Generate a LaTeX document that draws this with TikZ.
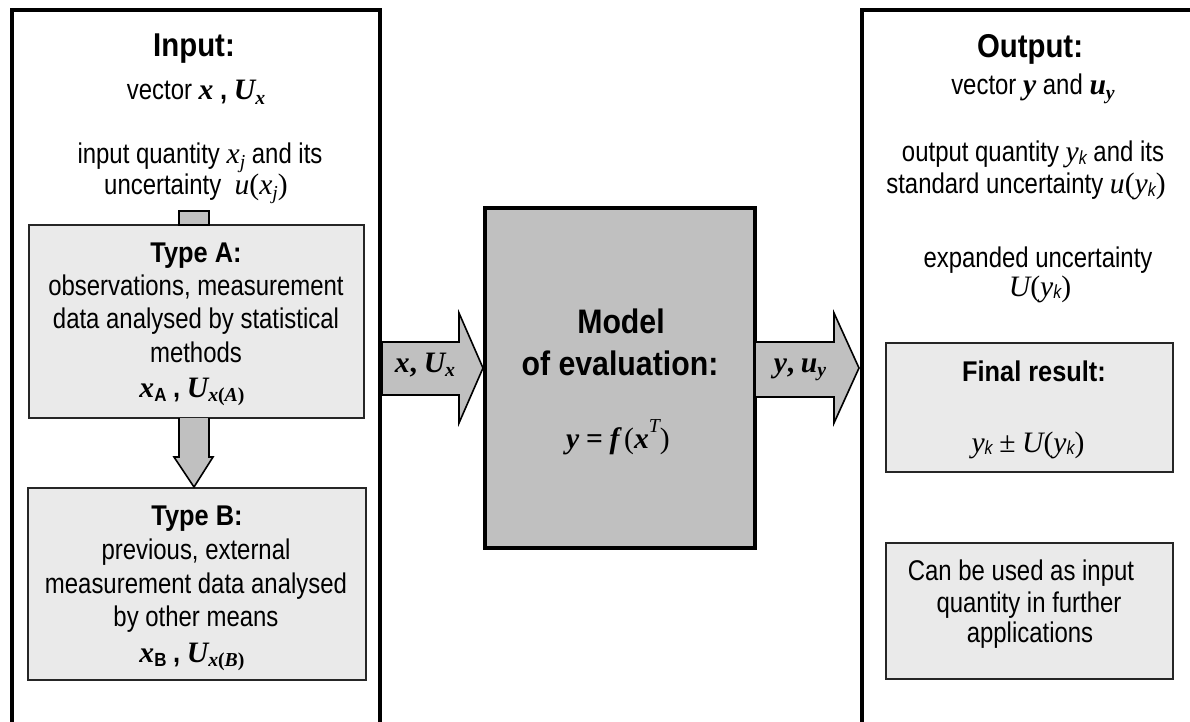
\documentclass[tikz,border=0pt]{standalone}
\usepackage{fontspec}
\setmainfont[FakeStretch=0.84,BoldFeatures={FakeStretch=0.89}]{Liberation Sans}
\newfontfamily\tms[Scale=1.04]{Liberation Serif}
\usetikzlibrary{calc}
\definecolor{boxgray}{HTML}{C0C0C0}
\definecolor{palegray}{HTML}{EAEAEA}
\newcommand{\bodyfont}{\fontsize{28.5bp}{33bp}\selectfont}
\newcommand{\titlefont}{\fontsize{33bp}{38bp}\selectfont\bfseries}
\newcommand{\modelfont}{\fontsize{34bp}{39bp}\selectfont\bfseries}
\newcommand{\mi}[1]{{\tms\itshape #1}}
\newcommand{\mbi}[1]{{\tms\bfseries\itshape #1}}
\newcommand{\mup}[1]{{\tms #1}}
\newcommand{\sbx}[1]{\raisebox{-0.16em}{\fontsize{19bp}{19bp}\selectfont #1}}
\newcommand{\sbk}[1]{\raisebox{-0.1em}{\fontsize{19bp}{19bp}\selectfont #1}}
\newcommand{\spx}[1]{\raisebox{0.55em}{\fontsize{19bp}{19bp}\selectfont #1}}
\tikzset{
  outerbox/.style={draw, rectangle, line width=3.3bp, fill=white, inner sep=0pt, outer sep=0pt},
  modelbox/.style={draw, rectangle, line width=3.3bp, fill=boxgray, inner sep=0pt, outer sep=0pt},
  graybox/.style={draw=black!85, rectangle, line width=2bp, fill=palegray, inner sep=0pt, outer sep=0pt},
  blockarrow/.style={draw, line width=1.6bp, fill=boxgray, line join=miter},
  txt/.style={anchor=base, inner sep=0pt, font=\bodyfont},
  ttl/.style={anchor=base, inner sep=0pt, font=\titlefont},
  sub/.style={anchor=base, inner sep=0pt, font=\bodyfont\bfseries},
  mdl/.style={anchor=base, inner sep=0pt, font=\modelfont},
}
\begin{document}
\begin{tikzpicture}[x=1bp,y=-1bp]
\useasboundingbox (0,0) rectangle (1190,722);
\fill[white] (0,0) rectangle (1190,722);

% outer containers
\node[outerbox, minimum width=368bp, minimum height=750bp] (inbox) at (196,385) {};
\node[outerbox, minimum width=388bp, minimum height=750bp] (outbox) at (1056,385) {};

% model box
\node[modelbox, minimum width=270bp, minimum height=340bp] (model) at (620,378) {};

% block arrows
\draw[blockarrow] ($(inbox.east |- 0,368)+(2,-26)$) -- (459,342) -- (459,313)
   -- ($(model.west |- 0,368)+(-2,0)$) -- (459,423) -- (459,395) -- ($(inbox.east |- 0,368)+(2,27)$) -- cycle;
\draw[blockarrow] ($(model.east |- 0,368)+(0,-26)$) -- (834,342) -- (834,313)
   -- ($(outbox.west |- 0,368)+(-3,0)$) -- (834,423) -- (834,397) -- ($(model.east |- 0,368)+(0,29)$) -- cycle;

% type boxes
\node[graybox, minimum width=335bp, minimum height=193bp] (typeA) at (196.5,321.5) {};
\node[graybox, minimum width=338bp, minimum height=192bp] (typeB) at (197,584) {};
\node[graybox, minimum width=287bp, minimum height=129bp] (final) at (1029.5,407.5) {};
\node[graybox, minimum width=287bp, minimum height=136bp] (further) at (1029.5,611) {};

% connector stub above type A and arrow A -> B
\draw[blockarrow] ($(typeA.north)+(-17.5,-14)$) rectangle ($(typeA.north)+(12.5,0)$);
\draw[blockarrow] ($(typeA.south)+(-17.5,0)$) -- ($(typeA.south)+(-17.5,39)$) -- ($(typeA.south)+(-22.5,39)$)
   -- ($(typeB.north)+(-3,-1)$) -- ($(typeA.south)+(16.5,39)$) -- ($(typeA.south)+(12.5,39)$) -- ($(typeA.south)+(12.5,0)$);

% input texts
\node[ttl] (tin) at (194,57) {Input:};
\node[txt] (tin1) at (196,100) {vector \mbi{x} \textbf{,} \mbi{U}\sbx{\mbi{x}}};
\node[txt] (tin2) at (200,164) {input quantity \mi{x}\sbx{\mi{j}} and its};
\node[txt] (tin3) at (196,195) {uncertainty\ \ \mi{u}\mup{(}\mi{x}\sbx{\mi{j}}\mup{)}};

\node[sub] (ta0) at (196,262) {Type A:};
\node[txt] (ta1) at (196,295) {observations, measurement};
\node[txt] (ta2) at (196,328) {data analysed by statistical};
\node[txt] (ta3) at (196,362) {methods};
\node[txt] (ta4) at (192,397) {\mbi{x}\sbx{\bfseries A} \textbf{,} \mbi{U}\sbx{\mbi{x}\mup{\bfseries(}\mbi{A}\mup{\bfseries)}}};

\node[sub] (tb0) at (197,525) {Type B:};
\node[txt] (tb1) at (196,559) {previous, external};
\node[txt] (tb2) at (196,593) {measurement data analysed};
\node[txt] (tb3) at (196,626) {by other means};
\node[txt] (tb4) at (192,662) {\mbi{x}\sbx{\bfseries B} \textbf{,} \mbi{U}\sbx{\mbi{x}\mup{\bfseries(}\mbi{B}\mup{\bfseries)}}};

% model texts
\node[mdl] (tm1) at (621,333) {Model};
\node[mdl] (tm2) at (620,375) {of evaluation:};
\node[txt] (tm3) at (618,448) {\mbi{y} \mup{\bfseries =} \mbi{f}\,\mup{(}\mbi{x}\spx{\mi{T}}\mup{)}};

% arrow labels
\node[txt] (lx) at (425,372) {\mbi{x}\mup{\bfseries,} \mbi{U}\sbx{\mbi{x}}};
\node[txt] (ly) at (800,372) {\mbi{y}\mup{\bfseries,} \mbi{u}\sbx{\mbi{y}}};

% output texts
\node[ttl] (tout) at (1030,58) {Output:};
\node[txt] (to1) at (1033,95) {vector \mbi{y} and \mbi{u}\sbx{\mbi{y}}};
\node[txt] (to2) at (1033,162) {output quantity \mi{y}\sbk{\itshape k} and its};
\node[txt] (to3) at (1026,194) {standard uncertainty \mi{u}\mup{(}\mi{y}\sbk{\itshape k}\mup{)}};
\node[txt] (to4) at (1038,267) {expanded uncertainty};
\node[txt] (to5) at (1040,296) {\mi{U}\mup{(}\mi{y}\sbk{\itshape k}\mup{)}};

\node[sub] (tf0) at (1034,381) {Final result:};
\node[txt] (tf1) at (1028,452) {\mi{y}\sbk{\itshape k} \mup{±} \mi{U}\mup{(}\mi{y}\sbk{\itshape k}\mup{)}};

\node[txt] (tu1) at (1021,580) {Can be used as input};
\node[txt] (tu2) at (1029,612) {quantity in further};
\node[txt] (tu3) at (1030,642) {applications};
\end{tikzpicture}
\end{document}
